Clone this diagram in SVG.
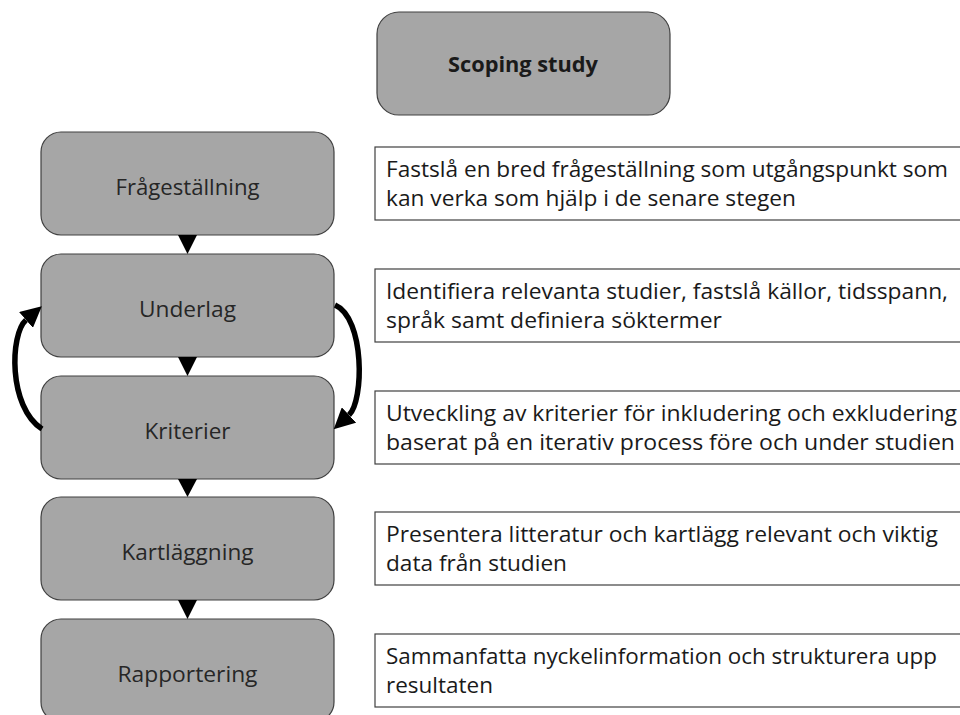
<svg xmlns="http://www.w3.org/2000/svg" width="960" height="715" viewBox="0 0 960 715">
<defs>
<style>
.step{fill:#a6a6a6;stroke:#404040;stroke-width:1.2}
.desc{fill:#ffffff;stroke:#404040;stroke-width:1.2}
.lbl{font-family:"Open Sans","Noto Sans","Liberation Sans",sans-serif;font-size:22px;fill:#262626;text-anchor:middle}
.ttl{font-family:"Open Sans","Noto Sans","Liberation Sans",sans-serif;font-size:22px;font-weight:bold;fill:#1a1a1a;text-anchor:middle}
.txt{font-family:"Open Sans","Noto Sans","Liberation Sans",sans-serif;font-size:22px;fill:#1a1a1a}
.tri{fill:#000000}
.loop{fill:none;stroke:#000000;stroke-width:5.5}
</style>
<marker id="head" viewBox="0 0 20 20" refX="0" refY="10" markerWidth="21" markerHeight="21" markerUnits="userSpaceOnUse" orient="auto">
<path d="M0,0 L20,10 L0,20 z" fill="#000000"/>
</marker>
</defs>
<rect width="960" height="715" fill="#ffffff"/>

<g id="scoping-study">
<rect class="step" x="377" y="12" width="293" height="103" rx="22" ry="22"/>
<text class="ttl" x="523" y="72" textLength="150" lengthAdjust="spacingAndGlyphs">Scoping study</text>
</g>

<g id="fragestallning">
<rect class="step" x="41" y="132" width="293" height="103" rx="20" ry="20"/>
<text class="lbl" x="187.5" y="195" textLength="144" lengthAdjust="spacingAndGlyphs">Frågeställning</text>
</g>
<g id="underlag">
<rect class="step" x="41" y="254" width="293" height="103" rx="20" ry="20"/>
<text class="lbl" x="187.5" y="317" textLength="97" lengthAdjust="spacingAndGlyphs">Underlag</text>
</g>
<g id="kriterier">
<rect class="step" x="41" y="376" width="293" height="103" rx="20" ry="20"/>
<text class="lbl" x="187.5" y="439" textLength="86" lengthAdjust="spacingAndGlyphs">Kriterier</text>
</g>
<g id="kartlaggning">
<rect class="step" x="41" y="497" width="293" height="103" rx="20" ry="20"/>
<text class="lbl" x="187.5" y="560" textLength="132" lengthAdjust="spacingAndGlyphs">Kartläggning</text>
</g>
<g id="rapportering">
<rect class="step" x="41" y="619" width="293" height="103" rx="20" ry="20"/>
<text class="lbl" x="187.5" y="682" textLength="140" lengthAdjust="spacingAndGlyphs">Rapportering</text>
</g>

<g id="desc-fragestallning">
<rect class="desc" x="375" y="147" width="600" height="73"/>
<text class="txt" x="386" y="177" textLength="562" lengthAdjust="spacingAndGlyphs">Fastslå en bred frågeställning som utgångspunkt som</text>
<text class="txt" x="386" y="206" textLength="410" lengthAdjust="spacingAndGlyphs">kan verka som hjälp i de senare stegen</text>
</g>
<g id="desc-underlag">
<rect class="desc" x="375" y="269" width="600" height="73"/>
<text class="txt" x="386" y="299" textLength="562" lengthAdjust="spacingAndGlyphs">Identifiera relevanta studier, fastslå källor, tidsspann,</text>
<text class="txt" x="386" y="328" textLength="336" lengthAdjust="spacingAndGlyphs">språk samt definiera söktermer</text>
</g>
<g id="desc-kriterier">
<rect class="desc" x="375" y="391" width="600" height="73"/>
<text class="txt" x="386" y="421" textLength="571" lengthAdjust="spacingAndGlyphs">Utveckling av kriterier för inkludering och exkludering</text>
<text class="txt" x="386" y="450" textLength="569" lengthAdjust="spacingAndGlyphs">baserat på en iterativ process före och under studien</text>
</g>
<g id="desc-kartlaggning">
<rect class="desc" x="375" y="512" width="600" height="73"/>
<text class="txt" x="386" y="542" textLength="552" lengthAdjust="spacingAndGlyphs">Presentera litteratur och kartlägg relevant och viktig</text>
<text class="txt" x="386" y="571" textLength="181" lengthAdjust="spacingAndGlyphs">data från studien</text>
</g>
<g id="desc-rapportering">
<rect class="desc" x="375" y="634" width="600" height="73"/>
<text class="txt" x="386" y="664" textLength="551" lengthAdjust="spacingAndGlyphs">Sammanfatta nyckelinformation och strukturera upp</text>
<text class="txt" x="386" y="693" textLength="107" lengthAdjust="spacingAndGlyphs">resultaten</text>
</g>

<g id="connectors">
<polygon class="tri" points="178,235 197,235 187.5,254"/>
<polygon class="tri" points="178,357 197,357 187.5,376"/>
<polygon class="tri" points="178,479 197,479 187.5,497"/>
<polygon class="tri" points="178,600 197,600 187.5,619"/>
<path class="loop" d="M 42 429 C 8 407, 10 334, 26 320" marker-end="url(#head)"/>
<path class="loop" d="M 335 305 C 365 318, 364 401, 349 415" marker-end="url(#head)"/>
</g>
</svg>
